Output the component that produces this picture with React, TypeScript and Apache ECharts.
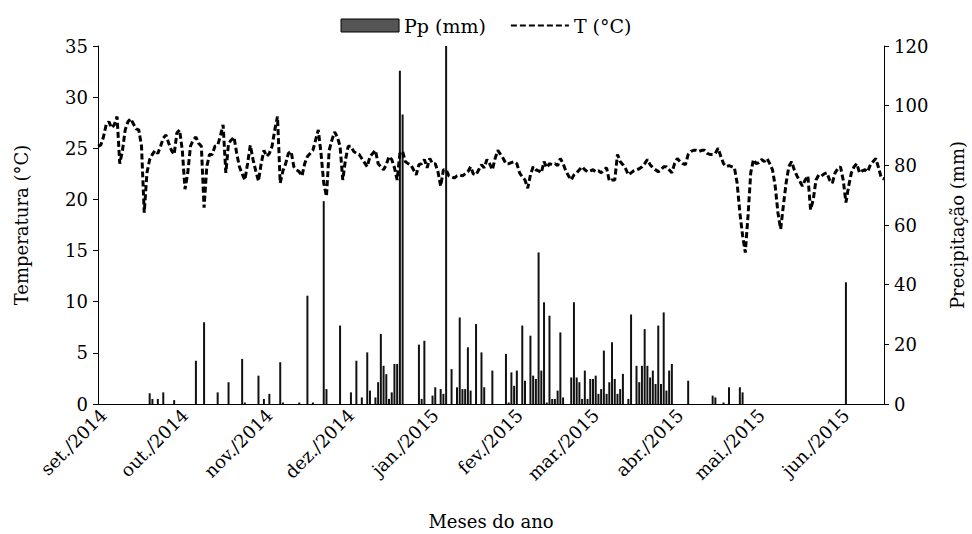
import React, { useEffect, useRef } from "react";
import * as echarts from "echarts";

// Daily series starting on this date (one value per day)
const START_DATE = "2014-08-30";

// Daily mean temperature (°C), 2014-08-30 .. 2015-06-15
const temperature: number[] = [
  25.2, 25.3, 26.1, 27.3, 27.6, 27.0, 27.3, 28.1, 23.5,
  24.8, 26.8, 27.6, 27.9, 27.4, 26.9, 26.8, 25.2, 18.7, 22.6,
  23.9, 24.4, 24.8, 24.5, 25.2, 26.0, 26.3, 25.5, 24.8,
  24.4, 26.5, 26.8, 24.8, 21.0, 22.6, 25.2, 25.8, 26.1, 25.5,
  25.2, 19.2, 23.2, 24.4, 24.4, 25.2, 25.3, 26.2, 27.3,
  22.6, 25.5, 25.8, 26.1, 24.5, 23.2, 22.5, 21.9, 23.5,
  25.3, 23.9, 22.8, 21.8, 23.5, 24.8, 24.2, 24.5, 25.2, 26.8,
  28.1, 21.6, 22.8, 23.5, 24.5, 24.7, 23.2, 22.9, 22.7,
  22.3, 23.5, 24.2, 24.5, 24.8, 25.8, 26.8, 24.5, 21.6, 20.3,
  24.8, 25.8, 26.6, 26.1, 25.2, 21.9, 23.9, 25.2, 25.2,
  24.7, 24.5, 24.4, 24.0, 23.6, 23.2, 24.2, 24.5, 24.8, 23.5,
  23.2, 22.9, 23.4, 24.2, 23.9, 23.1, 21.9, 24.5, 24.7,
  23.7, 23.5, 23.4, 22.9, 22.4, 23.4, 23.5, 23.9, 23.1,
  24.0, 23.5, 23.5, 22.7, 21.3, 22.9, 22.9, 22.3, 22.2, 22.1,
  22.3, 22.4, 22.3, 22.5, 22.7, 23.2, 22.5, 22.4, 22.9,
  23.4, 23.1, 23.9, 23.5, 22.9, 24.0, 24.8, 24.4, 24.0,
  23.5, 23.5, 23.6, 23.7, 23.5, 22.6, 22.2, 21.9, 21.1, 22.4,
  23.2, 22.9, 22.8, 22.6, 23.7, 23.1, 23.5, 23.4, 23.5, 23.3,
  24.0, 23.5, 22.8, 22.3, 21.9, 22.4, 22.6, 22.9, 23.2,
  22.9, 22.7, 22.8, 22.9, 22.7, 22.8, 22.6, 22.9, 23.1, 21.8,
  21.9, 21.9, 24.4, 23.7, 23.4, 23.0, 22.4, 22.6,
  22.8, 22.9, 23.0, 23.2, 23.5, 23.9, 23.4, 23.1, 22.9, 22.7,
  22.9, 23.2, 23.2, 22.9, 22.6, 23.5, 24.0, 23.7, 23.5,
  23.4, 24.4, 24.7, 24.8, 24.8, 24.7, 24.8, 24.8, 24.5, 24.4,
  24.4, 24.5, 25.0, 24.2, 23.5, 23.2, 23.3, 23.2, 23.1,
  21.6, 18.7, 16.5, 14.8, 18.4, 22.6, 23.9, 23.5, 23.6, 23.9,
  23.7, 24.0, 23.5, 22.9, 21.3, 18.7, 17.1, 19.4, 21.6,
  23.2, 23.7, 22.9, 22.3, 21.8, 21.3, 21.9, 22.3, 19.0, 20.0,
  21.9, 22.4, 22.3, 22.5, 22.6, 21.9, 21.6, 22.6, 23.0,
  23.2, 21.9, 19.7, 21.3, 22.6, 23.2, 23.5, 22.6, 22.8,
  22.9, 22.7, 23.4, 23.7, 24.0, 23.1, 22.1, 22.0,
];

// Daily precipitation (mm): rain days only, every other day is 0
const rainDates: string[] = [
  "2014-09-18", "2014-09-19", "2014-09-21", "2014-09-23", "2014-09-27", "2014-10-05",
  "2014-10-08", "2014-10-13", "2014-10-17", "2014-10-22", "2014-10-23", "2014-10-28",
  "2014-10-30", "2014-11-01", "2014-11-05", "2014-11-06", "2014-11-12", "2014-11-15",
  "2014-11-17", "2014-11-21", "2014-11-22", "2014-11-27", "2014-12-01", "2014-12-03",
  "2014-12-05", "2014-12-07", "2014-12-08", "2014-12-10", "2014-12-11", "2014-12-12",
  "2014-12-13", "2014-12-14", "2014-12-15", "2014-12-16", "2014-12-17", "2014-12-18",
  "2014-12-19", "2014-12-20", "2014-12-26", "2014-12-27", "2014-12-28", "2014-12-31",
  "2015-01-01", "2015-01-03", "2015-01-04", "2015-01-05", "2015-01-07", "2015-01-09",
  "2015-01-10", "2015-01-11", "2015-01-12", "2015-01-13", "2015-01-14", "2015-01-16",
  "2015-01-18", "2015-01-19", "2015-01-22", "2015-01-27", "2015-01-28", "2015-01-29",
  "2015-01-30", "2015-01-31", "2015-02-02", "2015-02-03", "2015-02-05", "2015-02-06",
  "2015-02-07", "2015-02-08", "2015-02-09", "2015-02-10", "2015-02-11", "2015-02-12",
  "2015-02-13", "2015-02-14", "2015-02-15", "2015-02-16", "2015-02-17", "2015-02-20",
  "2015-02-21", "2015-02-22", "2015-02-23", "2015-02-24", "2015-02-25", "2015-02-26",
  "2015-02-27", "2015-02-28", "2015-03-01", "2015-03-02", "2015-03-03", "2015-03-04",
  "2015-03-05", "2015-03-06", "2015-03-07", "2015-03-08", "2015-03-09", "2015-03-10",
  "2015-03-11", "2015-03-13", "2015-03-14", "2015-03-16", "2015-03-17", "2015-03-18",
  "2015-03-19", "2015-03-20", "2015-03-21", "2015-03-22", "2015-03-23", "2015-03-24",
  "2015-03-25", "2015-03-26", "2015-03-27", "2015-03-28", "2015-03-29", "2015-04-04",
  "2015-04-13", "2015-04-14", "2015-04-17", "2015-04-19", "2015-04-23", "2015-04-24",
  "2015-06-01",
];
const rainValues: number[] = [
  3.6, 1.7, 1.7, 3.9, 1.3, 14.5,
  27.4, 3.9, 7.3, 15.1, 0.5, 9.5,
  1.7, 3.4, 14.0, 0.5, 0.5, 36.3,
  0.5, 68.0, 5.0, 26.3, 3.9, 14.5,
  2.2, 17.3, 4.5, 2.2, 7.3, 23.5,
  12.8, 10.0, 1.7, 3.9, 13.4, 13.4,
  111.7, 97.0, 19.9, 1.7, 21.2, 2.8,
  5.6, 5.0, 3.4, 120.0, 11.7, 5.6,
  29.0, 5.0, 5.0, 19.0, 4.5, 26.8,
  17.3, 5.6, 11.2, 16.8, 0.5, 10.6,
  6.1, 11.2, 26.3, 7.8, 22.9, 9.5,
  8.4, 50.8, 11.2, 34.1, 0.5, 29.6,
  1.7, 1.7, 4.5, 24.0, 2.2, 8.9,
  34.1, 8.9, 7.3, 1.7, 11.2, 1.7,
  8.4, 8.4, 9.5, 3.4, 5.0, 17.9,
  3.4, 7.3, 20.7, 8.4, 3.4, 5.0,
  10.1, 1.7, 30.0, 12.8, 7.3, 12.8,
  25.1, 12.8, 8.9, 11.2, 6.7, 26.3,
  6.7, 30.7, 4.5, 11.2, 13.4, 7.8,
  2.8, 2.2, 0.5, 5.6, 5.6, 3.9,
  40.8,
];

const monthNames: string[] = ["jan.", "fev.", "mar.", "abr.", "mai.", "jun.", "jul.", "ago.", "set.", "out.", "nov.", "dez."];

const leftTicks = { min: 0, max: 35, interval: 5 };
const rightTicks = { min: 0, max: 120, interval: 20 };

function buildDates(start: string, n: number): string[] {
  const out: string[] = [];
  const [y, m, d] = start.split("-").map(Number);
  for (let i = 0; i < n; i++) {
    const dt = new Date(Date.UTC(y, m - 1, d + i));
    out.push(dt.toISOString().slice(0, 10));
  }
  return out;
}

const FONT = "DejaVu Serif";

export default function App() {
  const ref = useRef<HTMLDivElement>(null);
  useEffect(() => {
    if (!ref.current) return;
    const chart = echarts.init(ref.current, undefined, { renderer: "svg" });
    const dates = buildDates(START_DATE, temperature.length);
    const rainMap = new Map<string, number>();
    rainDates.forEach((d, i) => rainMap.set(d, rainValues[i]));
    const rain = dates.map((d) => rainMap.get(d) ?? 0);

    const axisLineStyle = { color: "#000", width: 1 };
    const txt = { fontFamily: FONT, color: "#000" };
    chart.setOption({
      animation: false,
      textStyle: { fontFamily: FONT, color: "#000" },
      legend: {
        top: 11,
        left: "center",
        itemGap: 24,
        textStyle: { ...txt, fontSize: 19 },
        data: [
          { name: "Pp (mm)", icon: "rect", itemStyle: { color: "#555", borderColor: "#000", borderWidth: 1 } },
          { name: "T (°C)", itemStyle: { opacity: 0, borderWidth: 0 } },
        ],
        itemWidth: 58,
        itemHeight: 13,
      },
      grid: { left: 98, right: 88, top: 46, bottom: 130, outerBoundsMode: "none", containLabel: false },
      xAxis: {
        type: "category",
        data: dates,
        boundaryGap: false,
        axisLine: { lineStyle: axisLineStyle },
        axisTick: { show: false },
        axisLabel: {
          interval: (index: number, value: string) => value.endsWith("-01"),
          formatter: (value: string) => {
            const [y, m] = value.split("-");
            return monthNames[Number(m) - 1] + "/" + y;
          },
          rotate: 45,
          fontSize: 18,
          ...txt,
          margin: 8,
        },
        name: "Meses do ano",
        nameLocation: "middle",
        nameGap: 108,
        nameTextStyle: { ...txt, fontSize: 18 },
        splitLine: { show: false },
      },
      yAxis: [
        {
          type: "value",
          ...leftTicks,
          position: "left",
          axisLine: { show: true, lineStyle: axisLineStyle },
          axisTick: { show: true, length: 5, lineStyle: axisLineStyle },
          axisLabel: { fontSize: 18, ...txt, margin: 10 },
          splitLine: { show: false },
          name: "Temperatura (°C)",
          nameLocation: "middle",
          nameRotate: 90,
          nameGap: 68,
          nameTextStyle: { ...txt, fontSize: 18 },
        },
        {
          type: "value",
          ...rightTicks,
          position: "right",
          axisLine: { show: true, lineStyle: axisLineStyle },
          axisTick: { show: true, length: 5, lineStyle: axisLineStyle },
          axisLabel: { fontSize: 18, ...txt, margin: 10 },
          splitLine: { show: false },
          name: "Precipitação (mm)",
          nameLocation: "middle",
          nameRotate: 90,
          nameGap: 64,
          nameTextStyle: { ...txt, fontSize: 18 },
        },
      ],
      series: [
        {
          name: "Pp (mm)",
          type: "bar",
          yAxisIndex: 1,
          data: rain,
          barWidth: 2,
          itemStyle: { color: "#111" },
        },
        {
          name: "T (°C)",
          type: "line",
          yAxisIndex: 0,
          data: temperature,
          symbol: "none",
          lineStyle: { color: "#000", width: 3, type: [6, 3] },
          itemStyle: { color: "#000" },
          z: 3,
        },
      ],
    });
    return () => chart.dispose();
  }, []);
  return <div ref={ref} style={{ width: 972, height: 534, position: "absolute", left: 0, top: 0 }} />;
}
